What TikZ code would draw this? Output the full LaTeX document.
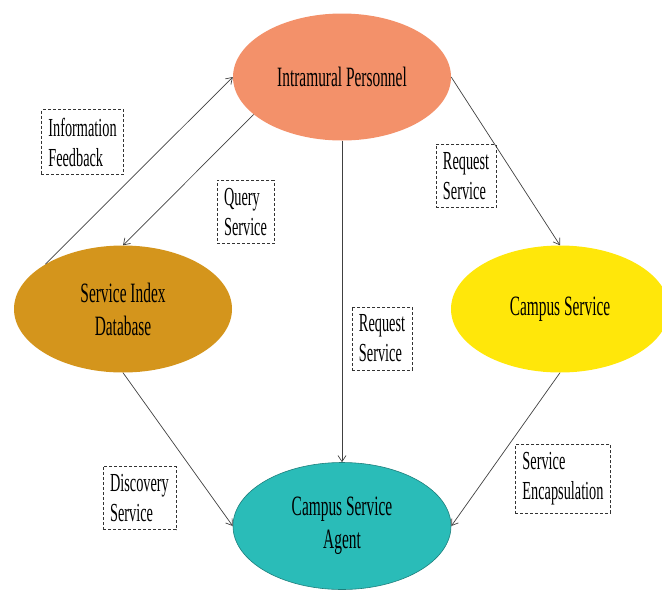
\documentclass[tikz,border=0pt]{standalone}
\usepackage{fontspec}
\setmainfont[FakeStretch=0.55]{Liberation Serif}
\usetikzlibrary{shapes.geometric,arrows.meta}
\definecolor{salmon}{HTML}{F3916A}
\definecolor{gold}{HTML}{D4951C}
\definecolor{lemon}{HTML}{FFE70A}
\definecolor{teal}{HTML}{2ABCB8}
\definecolor{darkteal}{HTML}{1E7F7C}
\begin{document}
\begin{tikzpicture}[x=1pt,y=-1pt]
\tikzstyle{party}=[shape=ellipse,minimum width=218pt,minimum height=127pt,inner sep=0pt,align=center,font=\fontsize{28}{33}\selectfont]
\tikzstyle{tag}=[draw=black!80,densely dashed,line width=0.6pt,align=left,inner xsep=7pt,inner ysep=8pt,font=\fontsize{26}{30}\selectfont]
\tikzstyle{flow}=[draw=black!75,line width=0.7pt,-{Straight Barb[length=6pt,width=8pt]}]
\useasboundingbox (0,0) rectangle (662,590);

\node[party,fill=salmon] at (342,77) (ip) {Intramural Personnel};
\node[party,fill=gold] at (123,309) (sid) {Service Index\\Database};
\node[party,fill=lemon] at (560,309) (cs) {Campus Service};
\node[party,fill=teal,draw=darkteal,line width=0.6pt] at (342,526) (csa) {Campus Service\\Agent};

\node[tag] at (82.5,142) (t1) {Information\\Feedback};
\node[tag] at (245.5,212) (t2) {Query\\Service};
\node[tag] at (466,176) (t3) {Request\\Service};
\node[tag] at (382,338.5) (t4) {Request\\Service};
\node[tag] at (139.5,498) (t5) {Discovery\\Service};
\node[tag] at (563,479) (t6) {Service\\Encapsulation};

\draw[flow] (sid.150) -- (ip.west);
\draw[flow] (ip.203) -- (sid.north);
\draw[flow] (ip.east) -- (cs.north);
\draw[flow] (ip.south) -- (csa.north);
\draw[flow] (sid.south) -- (csa.west);
\draw[flow] (cs.south) -- (csa.east);
\end{tikzpicture}
\end{document}
